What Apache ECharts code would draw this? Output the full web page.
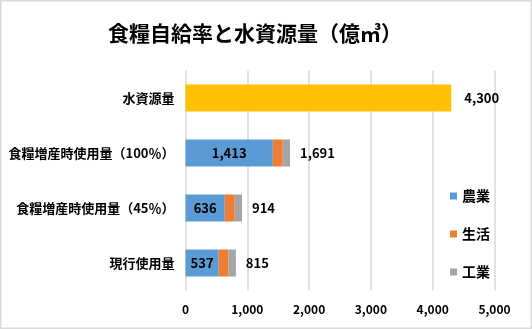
<!DOCTYPE html>
<html>
<head>
<meta charset="utf-8">
<script src="https://cdn.jsdelivr.net/npm/echarts@6/dist/echarts.min.js"></script>
<style>
html,body{margin:0;padding:0;background:#fff;}
#c{width:532px;height:329px;}
</style>
</head>
<body>
<div id="c"></div>
<script>
const titleText = '食糧自給率と水資源量（億㎥）';
const categories = ['現行使用量', '食糧増産時使用量（45％）', '食糧増産時使用量（100％）', '水資源量'];
const agriculture = [537, 636, 1413, '-'];
const domestic = [160, 160, 160, '-'];
const industry = [118, 118, 118, '-'];
const totals = [815, 914, 1691, '-'];
const waterResource = ['-', '-', '-', 4300];
const xTicks = [0, 1000, 2000, 3000, 4000, 5000];

const FONT = '"Noto Sans CJK JP", "Noto Sans", sans-serif';
const fmt = v => Number(v).toLocaleString('en-US');

const chart = echarts.init(document.getElementById('c'), null, {renderer: 'canvas'});
chart.setOption({
  animation: false,
  textStyle: {fontFamily: FONT},
  graphic: [
    {type: 'rect', shape: {x: 0.75, y: 0.75, width: 530.5, height: 327.5},
     style: {fill: 'none', stroke: '#d9d9d9', lineWidth: 1.5}, z: 100},
    {type: 'text', x: 255, y: 33,
     style: {text: titleText, fontSize: 21, fontWeight: 'bold', fontFamily: FONT, fill: '#000',
             align: 'center', verticalAlign: 'middle'}}
  ],
  legend: {
    data: ['農業', '生活', '工業'],
    orient: 'vertical',
    left: 445,
    top: 184,
    itemWidth: 7,
    itemHeight: 7,
    itemGap: 24,
    icon: 'rect',
    textStyle: {fontSize: 14, fontWeight: 'bold', color: '#000', fontFamily: FONT}
  },
  grid: {left: 185.5, right: 37.5, top: 70.5, bottom: 38.5, containLabel: false},
  xAxis: {
    type: 'value',
    min: xTicks[0],
    max: xTicks[xTicks.length - 1],
    interval: xTicks[1] - xTicks[0],
    axisLine: {show: false},
    axisTick: {show: false},
    splitLine: {show: true, lineStyle: {color: '#d9d9d9', width: 1.5}},
    axisLabel: {formatter: v => fmt(v), fontSize: 12, fontWeight: 'bold', color: '#000', margin: 13, fontFamily: FONT}
  },
  yAxis: {
    type: 'category',
    data: categories,
    axisLine: {show: false},
    axisTick: {show: false},
    axisLabel: {fontSize: 13, fontWeight: 'bold', color: '#000', margin: 11, fontFamily: FONT}
  },
  series: [
    {name: '農業', type: 'bar', stack: 's', data: agriculture, barWidth: 27,
     itemStyle: {color: '#5B9BD5'},
     label: {show: true, position: 'inside', formatter: p => fmt(p.value), fontSize: 13, fontWeight: 'bold', color: '#000', fontFamily: FONT}},
    {name: '生活', type: 'bar', stack: 's', data: domestic, barWidth: 27,
     itemStyle: {color: '#ED7D31'}},
    {name: '工業', type: 'bar', stack: 's', data: industry, barWidth: 27,
     itemStyle: {color: '#A5A5A5'},
     label: {show: true, position: 'right', distance: 10, formatter: p => fmt(totals[p.dataIndex]), fontSize: 13, fontWeight: 'bold', color: '#000', fontFamily: FONT}},
    {name: '水資源量', type: 'bar', stack: 's', data: waterResource, barWidth: 27,
     itemStyle: {color: '#FFC000'},
     label: {show: true, position: 'right', distance: 13, formatter: p => fmt(p.value), fontSize: 13, fontWeight: 'bold', color: '#000', fontFamily: FONT}}
  ]
});
</script>
</body>
</html>
